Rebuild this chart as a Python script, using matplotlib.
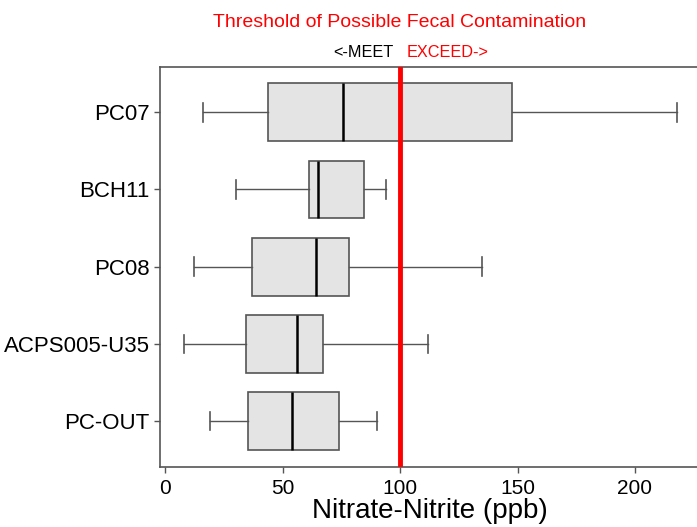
import matplotlib
matplotlib.use("Agg")
import matplotlib.pyplot as plt

plt.rcParams['font.family'] = ['Liberation Sans', 'DejaVu Sans']

sites = ["PC-OUT", "ACPS005-U35", "PC08", "BCH11", "PC07"]
whis_lo = [19, 8, 12, 30, 16]
q1 = [35, 34.5, 37, 61, 43.5]
med = [54, 56, 64, 65, 75.5]
q3 = [74, 67, 78, 84.5, 147.5]
whis_hi = [90, 112, 135, 94, 218]
threshold = 100

stats = []
for i in range(len(sites)):
    stats.append(dict(label=sites[i], whislo=whis_lo[i], q1=q1[i], med=med[i],
                      q3=q3[i], whishi=whis_hi[i], fliers=[]))

edge = "#555555"
fig = plt.figure(figsize=(6.97, 5.27), dpi=100)
ax = fig.add_axes([160/697, 60.3/527, 540/697, 400/527])

ax.bxp(stats, positions=range(1, len(sites) + 1), vert=False, widths=0.75,
       capwidths=0.24, patch_artist=True, showfliers=False,
       boxprops=dict(facecolor="#e4e4e4", edgecolor=edge, linewidth=1.2),
       whiskerprops=dict(color=edge, linewidth=1.0),
       capprops=dict(color=edge, linewidth=1.2),
       medianprops=dict(color="black", linewidth=1.8))

ax.axvline(threshold, color="red", linewidth=3.5, zorder=5)

ax.set_xlim(-2.34, 227.7)
ax.set_ylim(0.41, 5.59)
ax.set_xticks([0, 50, 100, 150, 200])
ax.set_yticks(range(1, len(sites) + 1))
ax.set_yticklabels(sites)
ax.tick_params(axis='both', color=edge, length=4, width=1)
ax.tick_params(axis='y', labelsize=16)
ax.tick_params(axis='x', labelsize=15, pad=5)
for s in ax.spines.values():
    s.set_color(edge)
    s.set_linewidth(1.2)

ax.set_xlabel("Nitrate-Nitrite (ppb)", fontsize=20, labelpad=0)

fig.text(400/697, 1 - 27.3/527, "Threshold of Possible Fecal Contamination",
         color="red", fontsize=14, ha="center", va="baseline")
fig.text(394/697, 1 - 56.7/527, "<-MEET", color="black", fontsize=11.7,
         ha="right", va="baseline")
fig.text(407/697, 1 - 56.7/527, "EXCEED->", color="red", fontsize=11.7,
         ha="left", va="baseline")

fig.savefig("out.png", dpi=100)
